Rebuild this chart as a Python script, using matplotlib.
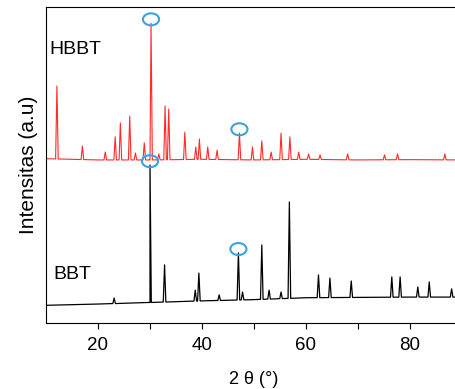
import numpy as np
import matplotlib
matplotlib.use("Agg")
import matplotlib.pyplot as plt
from matplotlib.patches import Ellipse

plt.rcParams['font.family'] = ['Liberation Sans', 'DejaVu Sans']

# HBBT pattern (upper, red)
hbbt_base_x = [10, 20, 30, 40, 50, 60, 70, 80, 90]
hbbt_base_y = [52.0, 51.6, 51.6, 51.8, 51.6, 51.8, 51.6, 51.7, 51.6]
hbbt_pos = [12.1, 17.0, 21.4, 23.3, 24.3, 26.1, 27.2, 28.9, 30.2, 31.7, 32.9, 33.6,
            36.7, 38.8, 39.5, 41.1, 42.9, 47.2, 49.7, 51.5, 53.3, 55.2, 56.9, 58.6,
            60.5, 62.7, 68.0, 75.1, 77.6, 86.7]
hbbt_int = [75.0, 56.0, 54.1, 58.9, 63.3, 65.5, 53.8, 57.0, 94.9, 53.5, 68.7, 67.7,
            60.4, 55.7, 58.2, 55.7, 54.7, 60.1, 55.7, 57.6, 54.1, 60.1, 58.9, 54.1,
            53.5, 53.2, 53.5, 53.2, 53.5, 53.5]

# BBT pattern (lower, black)
bbt_base_x = [10, 20, 30, 40, 50, 60, 70, 80, 90]
bbt_base_y = [5.6, 6.0, 6.5, 7.0, 7.4, 8.0, 8.1, 8.2, 8.2]
bbt_pos = [23.1, 30.0, 32.8, 38.7, 39.4, 43.3, 47.0, 47.8, 51.5, 52.9, 55.2, 56.8,
           62.4, 64.6, 68.7, 76.5, 78.1, 81.5, 83.7, 88.0]
bbt_int = [7.9, 50.0, 18.4, 10.4, 15.8, 8.9, 22.2, 9.8, 24.7, 10.4, 9.8, 38.3,
           15.2, 14.2, 13.3, 14.6, 14.6, 11.4, 13.0, 10.8]

# peaks marked with circles
marked = [30.0, 47.1]


def pattern(base_x, base_y, pos, inten, hw=0.25):
    xs = list(base_x)
    ys = list(base_y)
    for p, h in zip(pos, inten):
        b = np.interp(p, base_x, base_y)
        xs += [p - hw, p, p + hw]
        ys += [b, h, b]
    order = np.argsort(xs, kind='stable')
    return np.array(xs)[order], np.array(ys)[order]


fig = plt.figure(figsize=(4.55, 3.89), dpi=100)
ax = fig.add_axes([46 / 455, 66 / 389, 416 / 455, 316 / 389])

hx, hy = pattern(hbbt_base_x, hbbt_base_y, hbbt_pos, hbbt_int)
bx, by = pattern(bbt_base_x, bbt_base_y, bbt_pos, bbt_int)
ax.plot(hx, hy, color='#ff2a2a', lw=0.8)
ax.plot(bx, by, color='black', lw=0.9)

for m in marked:
    for pos, inten in [(hbbt_pos, hbbt_int), (bbt_pos, bbt_int)]:
        i = int(np.argmin(np.abs(np.array(pos) - m)))
        ax.add_patch(Ellipse((pos[i], inten[i] + 1.2), 3.1, 3.8, fill=False,
                             ec='#3aa2dc', lw=1.5, zorder=5))

ax.text(10.6, 86.5, 'HBBT', fontsize=14, va='center')
ax.text(11.5, 15.3, 'BBT', fontsize=14, va='center')

ax.set_xlim(10, 90)
ax.set_ylim(0, 100)
ax.set_xticks([20, 40, 60, 80])
ax.set_xticks([30, 50, 70], minor=True)
ax.tick_params(axis='x', which='both', direction='out', length=4, width=0.8,
               labelsize=13.5, pad=6)
ax.set_yticks([])
ax.set_xlabel('2 θ (°)', fontsize=13, labelpad=12)
ax.set_ylabel('Intensitas (a.u)', fontsize=15, labelpad=6)
for s in ax.spines.values():
    s.set_linewidth(0.8)

fig.savefig('out.png', dpi=100)
